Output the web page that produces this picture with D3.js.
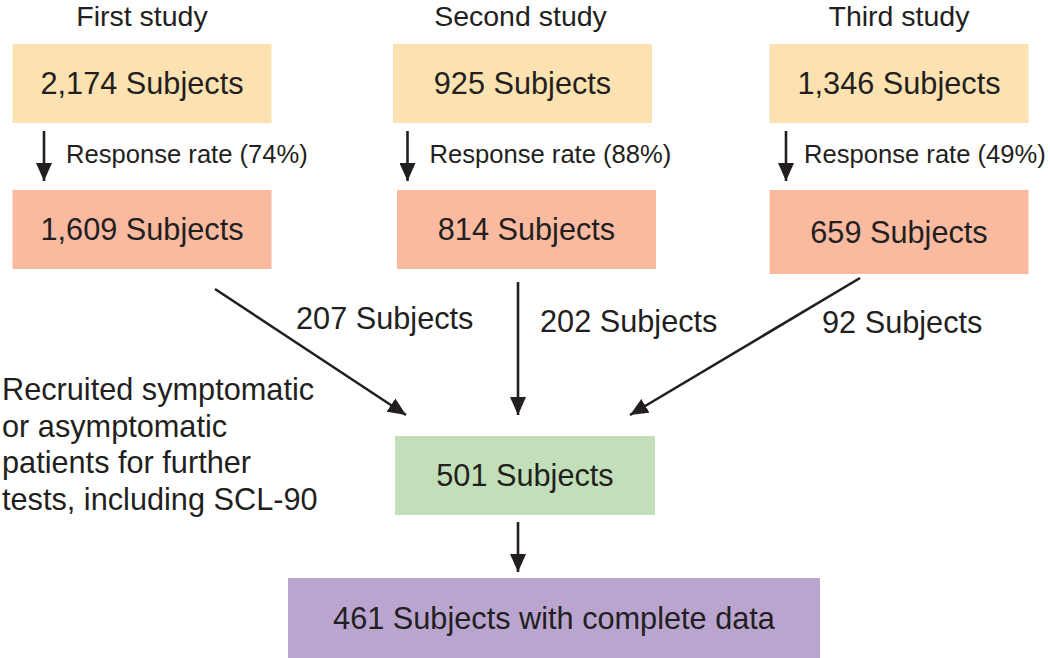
<!DOCTYPE html>
<html><head><meta charset="utf-8">
<script src="https://cdn.jsdelivr.net/npm/d3@7"></script>
<style>body{margin:0;background:#fff}svg{display:block}text{font-family:"Liberation Sans",Arial,Helvetica,sans-serif;fill:#231f20}</style>
</head><body><svg id="c" width="1050" height="658"></svg>
<script>
const studies = ["First study", "Second study", "Third study"];
const invited = [2174, 925, 1346];
const responseRates = [74, 88, 49];
const responders = [1609, 814, 659];
const recruited = [207, 202, 92];
const pooled = 501;
const complete = 461;
const sideNote = ["Recruited symptomatic", "or asymptomatic", "patients for further", "tests, including SCL-90"];

const colors = {invited:"#fde2b1", responders:"#f9baa0", pooled:"#c3dfba", complete:"#b9a5cf", ink:"#231f20"};
const fmt = d3.format(",");
const svg = d3.select("#c");

const x = d3.scalePoint().domain(studies).range([142, 899]);
const boxW = 259, boxH = 79, fs = 30.7;

const defs = svg.append("defs");
defs.append("marker").attr("id","ah").attr("markerUnits","userSpaceOnUse")
  .attr("viewBox","0 0 18 16").attr("markerWidth",18).attr("markerHeight",16)
  .attr("refX",18).attr("refY",8).attr("orient","auto")
  .append("path").attr("d","M0,0 L18,8 L0,16 Z").attr("fill",colors.ink);

function box(cx, top, w, h, fill, label, fsz) {
  svg.append("rect").attr("x", cx - w/2).attr("y", top).attr("width", w).attr("height", h).attr("fill", fill);
  svg.append("text").attr("x", cx).attr("y", top + h/2 + 0.355*fsz).attr("text-anchor","middle")
    .attr("font-size", fsz).text(label);
}
function arrow(x1,y1,x2,y2){
  svg.append("line").attr("x1",x1).attr("y1",y1).attr("x2",x2).attr("y2",y2)
    .attr("stroke",colors.ink).attr("stroke-width",2.6).attr("marker-end","url(#ah)");
}

// titles
svg.selectAll("text.title").data(studies).join("text").attr("class","title")
  .attr("x", d => x(d)).attr("y", 26).attr("text-anchor","middle").attr("font-size", 28.5).text(d => d);

studies.forEach((s, i) => {
  const cx = x(s) + (i === 1 ? 2 : 0);
  box(cx, 44, boxW, boxH, colors.invited, fmt(invited[i]) + " Subjects", fs);
  box(cx + (i === 1 ? 4 : 0), 190, boxW, i === 2 ? 84 : boxH, colors.responders, fmt(responders[i]) + " Subjects", fs);
  const ax = x(s) - 98 - (i === 1 ? 15 : 0) + (i===2?-15:0);
  arrow(ax, 131, ax, 181);
  svg.append("text").attr("x", ax + (i === 2 ? 18 : 22)).attr("y", 163).attr("font-size", 25.6)
    .text("Response rate (" + responseRates[i] + "%)");
});

// pooled & complete boxes
box(525, 436, 260, 79, colors.pooled, pooled + " Subjects", fs);
box(554, 578, 532, 80, colors.complete, complete + " Subjects with complete data", fs);

// convergence arrows
arrow(215, 289, 406, 415);
arrow(518, 282, 518, 415);
arrow(860, 278, 630, 415);
arrow(518, 522, 518, 572);

const lbl = [[296, 329], [540, 332], [822, 333]];
recruited.forEach((r, i) => {
  svg.append("text").attr("x", lbl[i][0]).attr("y", lbl[i][1]).attr("font-size", fs).text(r + " Subjects");
});

svg.selectAll("text.note").data(sideNote).join("text").attr("class","note")
  .attr("x", 2).attr("y", (d, i) => 400 + i*36.7).attr("font-size", fs).text(d => d);
</script></body></html>
